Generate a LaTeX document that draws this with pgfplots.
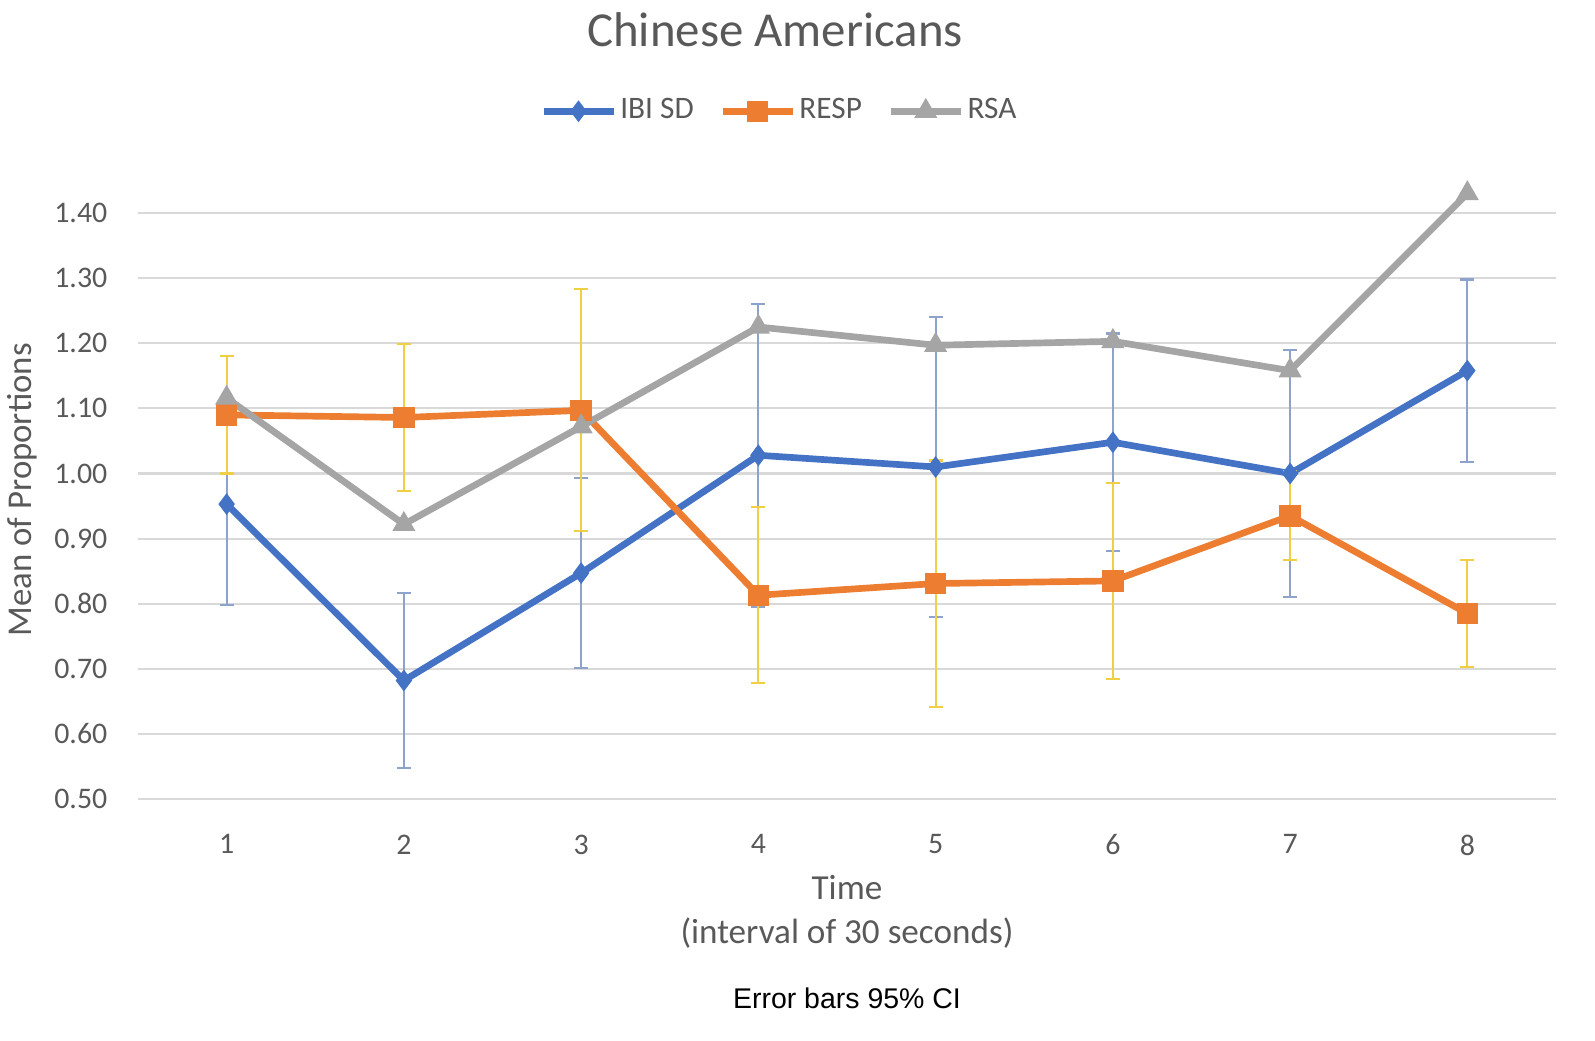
\documentclass[border=0pt]{standalone}
\usepackage{fontspec}
\setmainfont{Carlito}
\newfontfamily\arial{Liberation Sans}
\usepackage{pgfplots}
\pgfplotsset{compat=1.18}
\definecolor{cblue}{HTML}{4472C4}
\definecolor{corange}{HTML}{ED7D31}
\definecolor{cgray}{HTML}{A5A5A5}
\definecolor{eblue}{HTML}{8EA3CC}
\definecolor{eyellow}{HTML}{F0CF45}
\definecolor{txt}{HTML}{595959}
\definecolor{grid}{HTML}{D9D9D9}
\begin{document}
\begin{tikzpicture}[x=0.1mm,y=0.1mm]
\path[use as bounding box] (0,0) rectangle (1595,1040);
\begin{axis}[
  at={(13.8mm,24.1mm)}, anchor=south west,
  scale only axis, width=141.8mm, height=61.85mm,
  xmin=0.5, xmax=8.5, ymin=0.5, ymax=1.45,
  xtick={1,...,8},
  ytick={0.5,0.6,0.7,0.8,0.9,1.0,1.1,1.2,1.3,1.4},
  /pgf/number format/assume math mode=true,
  yticklabel style={/pgf/number format/fixed, /pgf/number format/fixed zerofill, /pgf/number format/precision=2},
  ymajorgrids, grid style={color=grid, line width=0.6pt},
  axis line style={draw=none},
  major tick length=0pt,
  tick label style={font=\fontsize{8.5}{9}\selectfont, text=txt, inner sep=0pt},
  xticklabel style={yshift=-3.5mm},
  yticklabel style={xshift=-3.0mm},
  clip=false,
  xlabel={Time\\(interval of 30 seconds)},
  xlabel style={at={(axis description cs:0.5,-0.1827)}, anchor=center, align=center,
     font=\fontsize{10}{12.5}\selectfont, text=txt},
  ylabel={Mean of Proportions},
  ylabel style={at={(axis description cs:-0.0818,0.5)}, anchor=center,
     font=\fontsize{9.9}{11}\selectfont, text=txt},
  legend columns=3,
  legend style={draw=none, fill=none, at={(0.4528,1.112)}, anchor=center,
     font=\fontsize{8.9}{11}\selectfont, text=txt,
     /tikz/every even column/.append style={column sep=2.2mm},
     nodes={inner sep=0.35mm}},
  legend image code/.code={\draw[mark repeat=2,mark phase=2,#1] plot coordinates {(0mm,0mm) (3.5mm,0mm) (7mm,0mm)};},
  error bars/y dir=both, error bars/y explicit,
]
\addplot[color=cblue, line width=1.9pt, mark=diamond*, mark size=2.7pt,
  mark options={solid, fill=cblue, line width=0.5pt},
  error bars/error bar style={color=eblue, line width=0.6pt},
  error bars/error mark options={rotate=90, mark size=0.7mm, color=eblue, line width=0.6pt}]
coordinates {
(1,0.953) +- (0,0.155)
(2,0.682) +- (0,0.135)
(3,0.847) +- (0,0.146)
(4,1.028) +- (0,0.233)
(5,1.010) +- (0,0.230)
(6,1.048) +- (0,0.167)
(7,1.000) +- (0,0.190)
(8,1.158) +- (0,0.140)
};
\addlegendentry{IBI SD}
\addplot[color=corange, line width=1.9pt, mark=square*, mark size=2.8pt,
  mark options={solid, fill=corange, line width=0.5pt},
  error bars/error bar style={color=eyellow, line width=0.6pt},
  error bars/error mark options={rotate=90, mark size=0.7mm, color=eyellow, line width=0.6pt}]
coordinates {
(1,1.090) +- (0,0.090)
(2,1.086) +- (0,0.113)
(3,1.097) +- (0,0.186)
(4,0.813) +- (0,0.135)
(5,0.831) +- (0,0.189)
(6,0.835) +- (0,0.151)
(7,0.935) +- (0,0.068)
(8,0.785) +- (0,0.082)
};
\addlegendentry{RESP}
\addplot[color=cgray, line width=1.9pt, mark=triangle*, mark size=3.3pt,
  mark options={solid, fill=cgray, line width=0.5pt},
  error bars/y dir=none]
coordinates {
(1,1.116) (2,0.922) (3,1.072) (4,1.225) (5,1.197) (6,1.203) (7,1.158) (8,1.430)
};
\addlegendentry{RSA}
\end{axis}
\node[text=txt, font=\fontsize{13.9}{15}\selectfont] at (775,1010) {Chinese Americans};
\node[font=\arial\fontsize{8.1}{9}\selectfont] at (847,42) {Error bars 95\% CI};
\end{tikzpicture}
\end{document}
